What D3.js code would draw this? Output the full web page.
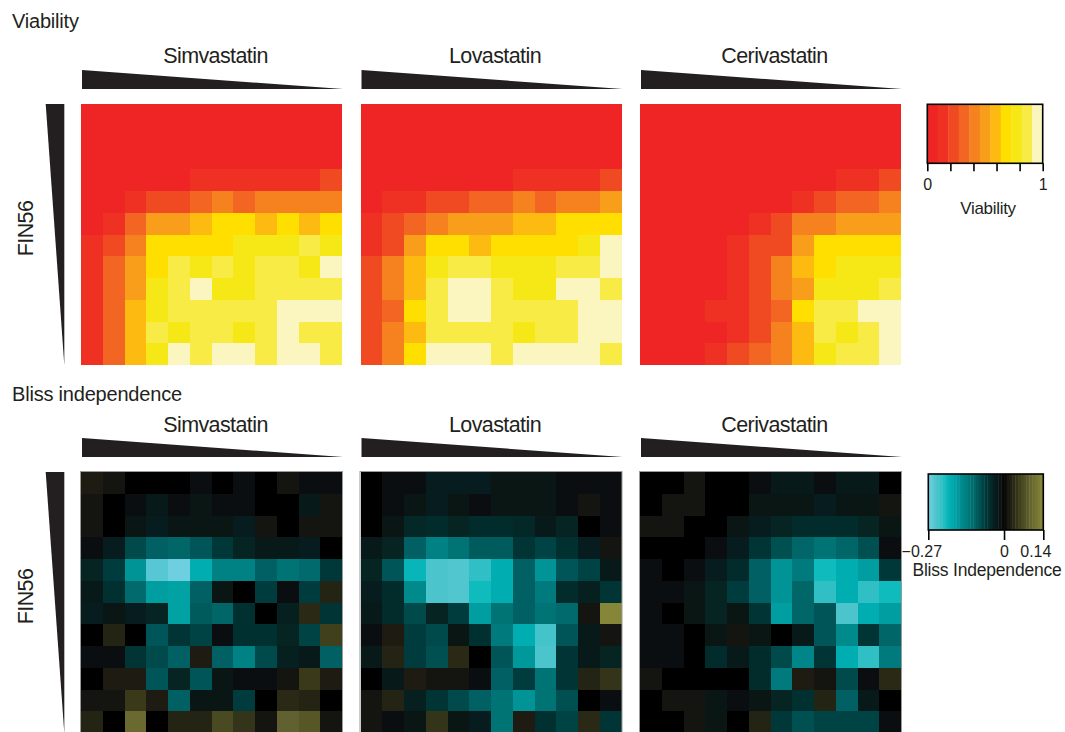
<!DOCTYPE html>
<html>
<head>
<meta charset="utf-8">
<script src="https://cdn.jsdelivr.net/npm/d3@7"></script>
<style>
  html, body { margin: 0; padding: 0; background: #fff; }
  svg text { font-family: "Liberation Sans", Arial, Helvetica, sans-serif; fill: #231F20; }
</style>
</head>
<body>
<svg id="fig" width="1065" height="732"></svg>
<script>
// ---- data -------------------------------------------------------------
const drugs = ["Simvastatin", "Lovastatin", "Cerivastatin"];
const rowLabel = "FIN56";

// Fraction of viable cells; rows = FIN56 dose (high -> low), columns = statin dose (high -> low)
const viabilitySimvastatin = [
  [0.03,0.03,0.03,0.03,0.03,0.03,0.03,0.03,0.03,0.03,0.03,0.03],
  [0.03,0.03,0.03,0.03,0.03,0.03,0.03,0.03,0.03,0.03,0.03,0.03],
  [0.03,0.03,0.03,0.03,0.03,0.03,0.03,0.03,0.03,0.03,0.03,0.03],
  [0.03,0.03,0.03,0.03,0.03,0.12,0.12,0.12,0.12,0.12,0.12,0.21],
  [0.03,0.03,0.12,0.21,0.21,0.30,0.39,0.30,0.39,0.39,0.39,0.39],
  [0.03,0.12,0.30,0.48,0.48,0.57,0.66,0.66,0.57,0.66,0.57,0.66],
  [0.12,0.21,0.39,0.66,0.66,0.66,0.66,0.75,0.75,0.75,0.84,0.75],
  [0.12,0.30,0.48,0.66,0.84,0.75,0.84,0.75,0.84,0.84,0.75,0.95],
  [0.12,0.30,0.48,0.75,0.84,0.95,0.75,0.75,0.84,0.84,0.84,0.84],
  [0.12,0.30,0.57,0.75,0.84,0.84,0.84,0.84,0.84,0.95,0.95,0.95],
  [0.12,0.30,0.57,0.84,0.75,0.84,0.84,0.75,0.84,0.95,0.84,0.84],
  [0.12,0.30,0.57,0.75,0.95,0.84,0.95,0.95,0.84,0.95,0.95,0.84]
];
const viabilityLovastatin = [
  [0.03,0.03,0.03,0.03,0.03,0.03,0.03,0.03,0.03,0.03,0.03,0.03],
  [0.03,0.03,0.03,0.03,0.03,0.03,0.03,0.03,0.03,0.03,0.03,0.03],
  [0.03,0.03,0.03,0.03,0.03,0.03,0.03,0.03,0.03,0.03,0.03,0.03],
  [0.03,0.03,0.03,0.03,0.03,0.03,0.03,0.12,0.12,0.12,0.12,0.21],
  [0.03,0.12,0.12,0.21,0.21,0.30,0.30,0.39,0.30,0.39,0.39,0.48],
  [0.12,0.21,0.30,0.39,0.48,0.48,0.48,0.57,0.57,0.66,0.66,0.66],
  [0.12,0.21,0.48,0.66,0.66,0.57,0.66,0.66,0.66,0.66,0.75,0.95],
  [0.21,0.39,0.57,0.75,0.84,0.84,0.75,0.75,0.75,0.84,0.84,0.95],
  [0.21,0.39,0.57,0.84,0.95,0.95,0.84,0.75,0.75,0.95,0.95,0.84],
  [0.21,0.30,0.66,0.84,0.95,0.95,0.84,0.84,0.84,0.84,0.95,0.95],
  [0.21,0.39,0.57,0.84,0.84,0.84,0.84,0.75,0.84,0.84,0.95,0.95],
  [0.21,0.39,0.66,0.95,0.95,0.95,0.84,0.95,0.95,0.95,0.95,0.84]
];
const viabilityCerivastatin = [
  [0.03,0.03,0.03,0.03,0.03,0.03,0.03,0.03,0.03,0.03,0.03,0.03],
  [0.03,0.03,0.03,0.03,0.03,0.03,0.03,0.03,0.03,0.03,0.03,0.03],
  [0.03,0.03,0.03,0.03,0.03,0.03,0.03,0.03,0.03,0.03,0.03,0.03],
  [0.03,0.03,0.03,0.03,0.03,0.03,0.03,0.03,0.03,0.12,0.12,0.21],
  [0.03,0.03,0.03,0.03,0.03,0.03,0.03,0.12,0.21,0.30,0.30,0.39],
  [0.03,0.03,0.03,0.03,0.03,0.12,0.21,0.39,0.39,0.48,0.48,0.48],
  [0.03,0.03,0.03,0.03,0.12,0.21,0.21,0.48,0.66,0.66,0.66,0.66],
  [0.03,0.03,0.03,0.03,0.12,0.21,0.39,0.57,0.66,0.75,0.75,0.75],
  [0.03,0.03,0.03,0.03,0.12,0.21,0.39,0.48,0.75,0.75,0.75,0.84],
  [0.03,0.03,0.03,0.12,0.12,0.21,0.30,0.66,0.84,0.84,0.95,0.95],
  [0.03,0.03,0.03,0.03,0.12,0.21,0.39,0.57,0.84,0.75,0.84,0.95],
  [0.03,0.03,0.03,0.12,0.21,0.30,0.39,0.57,0.75,0.84,0.84,0.95]
];

// Bliss independence excess (negative = synergy)
const blissSimvastatin = [
  [0.02,0.01,0,0,0,-0.01,0,-0.01,0,0.01,-0.01,-0.01],
  [0.01,0,-0.01,-0.025,-0.01,-0.02,-0.01,-0.01,0,0,-0.025,0.01],
  [0.01,0,-0.02,-0.03,-0.02,-0.02,-0.02,-0.03,0.01,0,0.01,0.01],
  [-0.01,-0.03,-0.08,-0.1,-0.105,-0.09,-0.065,-0.04,-0.025,-0.025,-0.03,0],
  [-0.04,-0.07,-0.16,-0.25,-0.27,-0.19,-0.14,-0.14,-0.1,-0.12,-0.11,-0.065],
  [-0.025,-0.055,-0.11,-0.17,-0.175,-0.1,-0.02,0,-0.07,-0.01,-0.07,0.03],
  [-0.03,-0.02,-0.03,-0.04,-0.175,-0.095,-0.105,-0.055,0,-0.035,0.035,-0.06],
  [0,0.03,0,-0.09,-0.06,-0.075,-0.01,-0.055,-0.055,-0.04,-0.075,0.055],
  [-0.01,-0.01,-0.06,-0.08,-0.1,0.02,-0.1,-0.14,-0.08,-0.035,-0.025,-0.1],
  [0,0.02,0.02,-0.09,-0.04,-0.09,-0.02,-0.01,-0.01,0.01,0.05,0.02],
  [0.01,0.01,0.05,0.02,-0.1,-0.02,-0.02,-0.07,0,0.035,0.03,0],
  [0.03,0,0.1,0,0.03,0.03,0.065,0.045,0.01,0.09,0.08,0.01]
];
const blissLovastatin = [
  [0,-0.01,-0.01,-0.03,-0.03,-0.03,-0.02,-0.02,-0.02,-0.01,-0.01,-0.01],
  [0,-0.01,-0.02,-0.03,-0.02,-0.01,-0.02,-0.02,-0.02,-0.01,0.01,-0.01],
  [0,-0.02,-0.045,-0.05,-0.04,-0.05,-0.05,-0.045,-0.025,-0.04,0,-0.01],
  [-0.025,-0.04,-0.1,-0.14,-0.12,-0.095,-0.095,-0.06,-0.075,-0.055,-0.03,0.01],
  [-0.04,-0.09,-0.2,-0.24,-0.245,-0.22,-0.19,-0.1,-0.16,-0.09,-0.075,-0.025],
  [-0.03,-0.05,-0.15,-0.24,-0.245,-0.21,-0.19,-0.1,-0.13,-0.05,-0.035,-0.06],
  [-0.025,-0.05,-0.08,-0.04,-0.07,-0.17,-0.12,-0.1,-0.12,-0.11,0.01,0.14],
  [-0.01,0.02,-0.07,-0.08,-0.02,-0.055,-0.13,-0.19,-0.235,-0.09,-0.025,0.01],
  [-0.025,0.03,-0.07,-0.085,0.035,0,-0.09,-0.165,-0.24,-0.06,-0.025,-0.04],
  [0,-0.025,0.02,0.01,0.01,-0.01,-0.1,-0.07,-0.12,-0.06,0.03,0.045],
  [0.01,0.03,-0.035,-0.06,-0.08,-0.1,-0.12,-0.16,-0.12,-0.085,0,-0.01],
  [0.01,-0.01,-0.02,0.045,-0.02,-0.03,-0.12,0.02,-0.055,-0.075,0.035,-0.06]
];
const blissCerivastatin = [
  [0,0,0.01,0,0,-0.01,-0.025,-0.025,-0.01,-0.025,-0.025,0],
  [0,0.01,0.01,0,0,-0.02,-0.02,-0.02,-0.03,-0.02,-0.02,0.01],
  [0.01,0.01,0,0,-0.02,-0.03,-0.04,-0.05,-0.05,-0.05,-0.04,-0.02],
  [0,0,0,-0.01,-0.03,-0.06,-0.085,-0.105,-0.12,-0.105,-0.085,-0.01],
  [-0.01,0,-0.01,-0.03,-0.05,-0.1,-0.16,-0.13,-0.21,-0.19,-0.17,-0.065],
  [-0.01,-0.01,-0.02,-0.04,-0.07,-0.1,-0.16,-0.105,-0.22,-0.19,-0.22,-0.21],
  [-0.01,0,-0.02,-0.04,-0.02,-0.06,-0.17,-0.105,-0.09,-0.24,-0.19,-0.17],
  [-0.01,-0.01,0,-0.02,0.01,-0.02,0,-0.025,-0.09,-0.15,-0.06,-0.105],
  [-0.01,-0.01,0,-0.05,-0.025,-0.05,-0.08,-0.145,-0.06,-0.19,-0.22,-0.13],
  [0.01,0,0,0,0,-0.05,-0.13,0.02,0.01,-0.08,-0.01,0.035],
  [0,0.01,0.01,-0.02,-0.01,-0.02,-0.04,-0.055,0.03,-0.1,-0.025,0],
  [0,0,0.01,-0.02,0,0.03,-0.065,-0.085,-0.075,-0.075,-0.075,-0.01]
];

// Colour ramps and legend ticks
const viabilityColors = ["#EE2524","#EF3124","#F04A23","#F26522","#F5821F","#F89E1B",
                         "#FDBB12","#FEDF00","#F5E816","#F8EB45","#FBF6C0"];
const viabilityTicks = [0, 0.2, 0.4, 0.6, 0.8, 1];
const viabilityTickLabels = ["0", "", "", "", "", "1"];
const blissStops  = [-0.27,-0.24,-0.22,-0.21,-0.19,-0.17,-0.15,-0.13,-0.12,-0.105,-0.09,-0.08,-0.07,-0.055,-0.04,-0.03,-0.02,-0.01,0,
                     0.01,0.02,0.03,0.045,0.055,0.065,0.08,0.09,0.10,0.14];
const blissColors = ["#6ECFE0","#4CC4CC","#30BFC4","#10BBBD","#00AEB2","#009EA0","#008A8C","#007A7C","#007374","#006668",
                     "#005558","#004A4C","#003C3E","#003030","#062422","#061C1E","#0A1614","#0A0E10","#000000",
                     "#141410","#1E1C12","#242414","#34341A","#40401C","#4A4A22","#565626","#606030","#6A6A30","#868638"];
const blissTicks = [-0.27, 0, 0.14];
const blissTickLabels = ["\u22120.27", "0", "0.14"];

// ---- scales -----------------------------------------------------------
const svg = d3.select("#fig");
const ink = "#231F20";
const font = '"Liberation Sans", Arial, Helvetica, sans-serif';

const size = 261;
const panelX = d3.scalePoint().domain(drugs).range([81, 640]);
const cell = d3.scaleBand().domain(d3.range(12)).range([0, size]);

const viabilityColor = d3.scaleQuantize().domain([0, 1]).range(viabilityColors);
const blissColor = d3.scaleLinear().domain(blissStops).range(blissColors).clamp(true);

const sections = [
  { title: "Viability", top: 104, titleY: 28.3, drugY: 62.5, labelDy: -6,
    data: [viabilitySimvastatin, viabilityLovastatin, viabilityCerivastatin],
    color: viabilityColor, border: false },
  { title: "Bliss independence", top: 472, titleY: 400.5, drugY: 432, labelDy: -6,
    data: [blissSimvastatin, blissLovastatin, blissCerivastatin],
    color: blissColor, border: true }
];

// ---- panels -----------------------------------------------------------
sections.forEach(sec => {
  svg.append("text")
    .attr("x", 12).attr("y", sec.titleY)
    .attr("font-size", 20).attr("letter-spacing", -0.2)
    .text(sec.title);

  // row-dose wedge and label
  const wedge = d3.line();
  svg.append("path")
    .attr("d", wedge([[45.7, sec.top], [64.3, sec.top], [64.3, sec.top + size]]) + "Z")
    .attr("fill", ink);
  svg.append("text")
    .attr("transform", `translate(33.3,${sec.top + size / 2 + sec.labelDy}) rotate(-90)`)
    .attr("text-anchor", "middle")
    .attr("font-size", 21.5).attr("letter-spacing", -0.6)
    .text(rowLabel);

  drugs.forEach((drug, k) => {
    const x0 = panelX(drug);
    const g = svg.append("g").attr("transform", `translate(${x0},${sec.top})`);

    // column-dose wedge and drug name
    svg.append("path")
      .attr("d", wedge([[x0 + 1, sec.top - 34], [x0 + 1, sec.top - 15], [x0 + size + 1, sec.top - 15]]) + "Z")
      .attr("fill", ink);
    svg.append("text")
      .attr("x", x0 + size / 2 + 4).attr("y", sec.drugY)
      .attr("text-anchor", "middle")
      .attr("font-size", 21.5).attr("letter-spacing", -0.6)
      .text(drug);

    const cells = sec.data[k].flatMap((row, i) => row.map((v, j) => ({ i, j, v })));
    g.selectAll("rect.cell").data(cells).join("rect")
      .attr("class", "cell")
      .attr("x", d => cell(d.j))
      .attr("y", d => cell(d.i))
      .attr("width", d => cell.bandwidth() + (d.j < 11 ? 1 : 0))
      .attr("height", d => cell.bandwidth() + (d.i < 11 ? 1 : 0))
      .attr("shape-rendering", "crispEdges")
      .attr("fill", d => sec.color(d.v));

    if (sec.border) {
      g.append("rect")
        .attr("x", -0.5).attr("y", -0.5)
        .attr("width", size + 1).attr("height", size + 1)
        .attr("fill", "none").attr("stroke", "#9a9a9a").attr("stroke-width", 1);
    }
  });
});

// ---- legends ----------------------------------------------------------
function styleAxis(g, fontSize) {
  g.select(".domain").remove();
  g.selectAll(".tick line").attr("stroke", "#000").attr("stroke-width", 1.6);
  g.selectAll(".tick text").attr("fill", ink).attr("font-size", fontSize)
    .attr("font-family", font);
}

// Viability legend (11 discrete bins)
{
  const lx = d3.scaleLinear().domain([0, 1]).range([927.3, 1042.7]);
  const top = 104.3, h = 59;
  const bins = viabilityColors.map((c, i) => ({ c, a: i / viabilityColors.length, b: (i + 1) / viabilityColors.length }));
  svg.selectAll("rect.vleg").data(bins).join("rect")
    .attr("class", "vleg")
    .attr("x", d => lx(d.a)).attr("y", top)
    .attr("width", d => lx(d.b) - lx(d.a) + 0.4).attr("height", h)
    .attr("fill", d => d.c);
  svg.append("rect").attr("x", lx(0)).attr("y", top).attr("width", lx(1) - lx(0)).attr("height", h)
    .attr("fill", "none").attr("stroke", "#000").attr("stroke-width", 1.6);
  const ax = svg.append("g").attr("transform", `translate(0,${top + h})`)
    .call(d3.axisBottom(lx).tickValues(viabilityTicks).tickSize(8).tickPadding(7)
      .tickFormat((d, i) => viabilityTickLabels[i]));
  styleAxis(ax, 16);
  svg.append("text").attr("x", 988).attr("y", 214)
    .attr("text-anchor", "middle").attr("font-size", 17).attr("letter-spacing", -0.3)
    .text("Viability");
}

// Bliss legend (stepped continuous ramp)
{
  const lx = d3.scaleLinear().domain([-0.27, 0.14]).range([928.3, 1043.3]);
  const top = 474, h = 56;
  const steps = d3.range(-0.27, 0.135, 0.01).map(v => ({ a: v, b: Math.min(v + 0.01, 0.14) }));
  svg.selectAll("rect.bleg").data(steps).join("rect")
    .attr("class", "bleg")
    .attr("x", d => lx(d.a)).attr("y", top)
    .attr("width", d => lx(d.b) - lx(d.a) + 0.4).attr("height", h)
    .attr("fill", d => blissColor((d.a + d.b) / 2));
  svg.append("rect").attr("x", lx(-0.27)).attr("y", top).attr("width", lx(0.14) - lx(-0.27)).attr("height", h)
    .attr("fill", "none").attr("stroke", "#000").attr("stroke-width", 1.6);
  const ax = svg.append("g").attr("transform", `translate(0,${top + h})`)
    .call(d3.axisBottom(lx).tickValues(blissTicks).tickSize(10).tickPadding(6)
      .tickFormat((d, i) => blissTickLabels[i]));
  styleAxis(ax, 16);
  ax.selectAll(".tick text").attr("dx", (d, i) => [-7, 0, -8][i]);
  svg.append("text").attr("x", 987).attr("y", 576)
    .attr("text-anchor", "middle").attr("font-size", 17.5).attr("letter-spacing", -0.2)
    .text("Bliss Independence");
}
</script>
</body>
</html>
